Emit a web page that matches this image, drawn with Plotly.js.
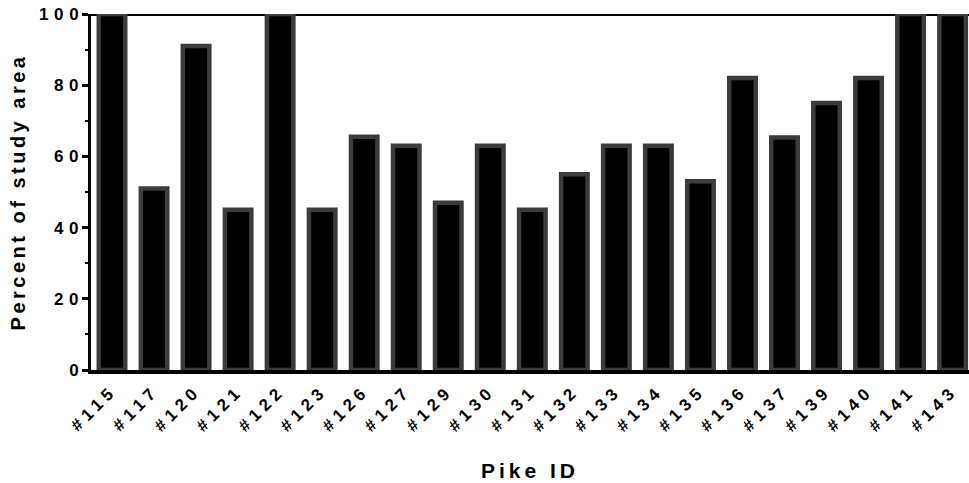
<!DOCTYPE html>
<html>
<head>
<meta charset="utf-8">
<script src="https://cdn.plot.ly/plotly-3.0.1.min.js"></script>
<style>
html,body{margin:0;padding:0;background:#fff;}
#chart{width:969px;height:483px;}
.xtick text{letter-spacing:5px;}
.g-xtitle text{letter-spacing:4px;}
.g-ytitle text{letter-spacing:3.5px;}
</style>
</head>
<body>
<div id="chart"></div>
<script>
const pikeIds = ["#115","#117","#120","#121","#122","#123","#126","#127","#129","#130","#131","#132","#133","#134","#135","#136","#137","#139","#140","#141","#143"];
const percentArea = [100, 51, 91, 45, 100, 45, 65.5, 63, 47, 63, 45, 55, 63, 63, 53, 82, 65.3, 75, 82, 100, 100];
const yTickVals = [0, 20, 40, 60, 80, 100];
const yTickText = yTickVals.map(v => String(v).split('').join('\u2004'));

const trace = {
  type: 'bar',
  x: pikeIds,
  y: percentArea,
  width: 0.63,
  marker: {color: '#000000', line: {color: '#3c3c3c', width: 4.5}},
  hoverinfo: 'x+y'
};

const layout = {
  width: 969, height: 483,
  margin: {l: 91, r: 0, t: 14, b: 113},
  paper_bgcolor: '#ffffff', plot_bgcolor: '#ffffff',
  showlegend: false,
  font: {family: 'Liberation Sans, Arial, sans-serif', color: '#000', size: 16},
  xaxis: {
    type: 'category',
    range: [-0.5, 20.39],
    tickangle: -45,
    tickfont: {size: 17, weight: 'bold', family: 'Liberation Sans, Arial, sans-serif'},
    showline: true, linecolor: '#000', linewidth: 4,
    ticks: '', showgrid: false, zeroline: false,
    title: {text: 'Pike ID', font: {size: 21, weight: 'bold'}, standoff: 30}
  },
  yaxis: {
    range: [0, 100],
    tickvals: yTickVals,
    ticktext: yTickText,
    tickfont: {size: 17, weight: 'bold', family: 'Liberation Sans, Arial, sans-serif'},
    showline: true, linecolor: '#000', linewidth: 3,
    ticks: 'outside', ticklen: 6, tickwidth: 3, tickcolor: '#000',
    minor: {dtick: 10, tick0: 0, ticks: 'outside', ticklen: 3, tickwidth: 2, tickcolor: '#000'},
    showgrid: false, zeroline: false,
    title: {text: 'Percent of study area', font: {size: 20, weight: 'bold'}, standoff: 8}
  },
  shapes: [{
    type: 'line', xref: 'paper', yref: 'y', x0: 0, x1: 1, y0: 100, y1: 100,
    line: {color: '#000', width: 4}, layer: 'below'
  }]
};

Plotly.newPlot('chart', [trace], layout, {displayModeBar: false, staticPlot: true});
</script>
</body>
</html>
